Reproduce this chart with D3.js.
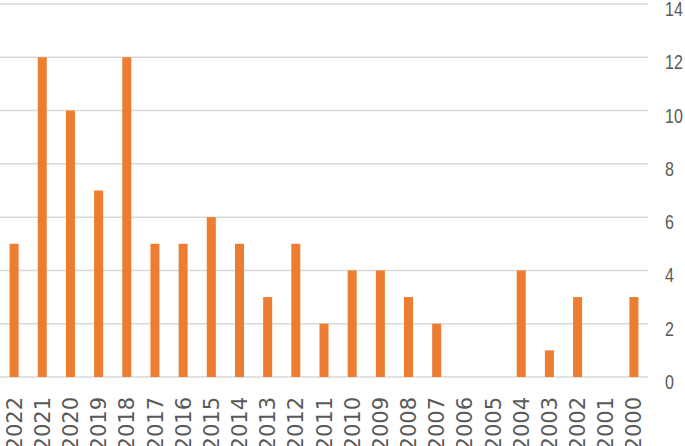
<!DOCTYPE html>
<html>
<head>
<meta charset="utf-8">
<script src="https://cdn.jsdelivr.net/npm/d3@7"></script>
<style>
  body { margin: 0; background: #fff; }
</style>
</head>
<body>
<div id="chart"></div>
<script>
// data
const years = ["2022","2021","2020","2019","2018","2017","2016","2015","2014","2013","2012",
  "2011","2010","2009","2008","2007","2006","2005","2004","2003","2002","2001","2000"];
const counts = [5,12,10,7,12,5,5,6,5,3,5,2,4,4,3,2,0,0,4,1,3,0,3];
const yTicks = [0,2,4,6,8,10,12,14];

const width = 685, height = 446;
const margin = { top: 4, right: 37, bottom: 69, left: 0 };
const plotW = width - margin.left - margin.right,
  plotH = height - margin.top - margin.bottom;

const svg = d3.select("#chart")
  .append("svg")
  .attr("width", width)
  .attr("height", height)
  .append("g")
  .attr("transform", "translate(" + margin.left + "," + margin.top + ")");

const x = d3.scaleBand()
  .domain(years)
  .range([0, plotW])
  .paddingInner(0.68)
  .paddingOuter(0.34);

const y = d3.scaleLinear()
  .domain([0, 14])
  .range([plotH, 0]);

// gridlines
svg.append("g")
  .selectAll("line")
  .data(yTicks)
  .enter()
  .append("line")
  .attr("x1", 0)
  .attr("x2", plotW)
  .attr("y1", d => y(d))
  .attr("y2", d => y(d))
  .style("stroke", "#d9d9d9")
  .style("stroke-width", 1.5);

// right axis labels (narrow look, sits just under its gridline)
svg.append("g")
  .attr("transform", "translate(" + plotW + ",0)")
  .call(d3.axisRight(y).tickValues(yTicks).tickSize(0))
  .call(g => g.select(".domain").remove())
  .selectAll("text")
  .attr("x", 0)
  .attr("dy", null)
  .attr("transform", "translate(17,11.5) scale(0.8,1)")
  .style("font-family", "'Liberation Sans', sans-serif")
  .style("font-size", "20px")
  .style("fill", "#595959");

// bars
svg.selectAll(".bar")
  .data(years.map((yr, i) => ({ year: yr, value: counts[i] })))
  .enter()
  .append("rect")
  .attr("class", "bar")
  .attr("x", d => x(d.year))
  .attr("y", d => y(d.value))
  .attr("width", x.bandwidth())
  .attr("height", d => plotH - y(d.value))
  .style("fill", "#ed7d31");

// bottom category labels
svg.append("g")
  .attr("transform", "translate(0," + plotH + ")")
  .call(d3.axisBottom(x).tickSize(0).tickPadding(0))
  .call(g => g.select(".domain").remove())
  .selectAll("text")
  .attr("transform", "translate(0,20) rotate(-90)")
  .attr("text-anchor", "end")
  .attr("x", 0)
  .attr("y", 0)
  .attr("dy", "0.36em")
  .style("font-family", "'DejaVu Sans', sans-serif")
  .style("font-size", "21px")
  .style("fill", "#595959");
</script>
</body>
</html>
